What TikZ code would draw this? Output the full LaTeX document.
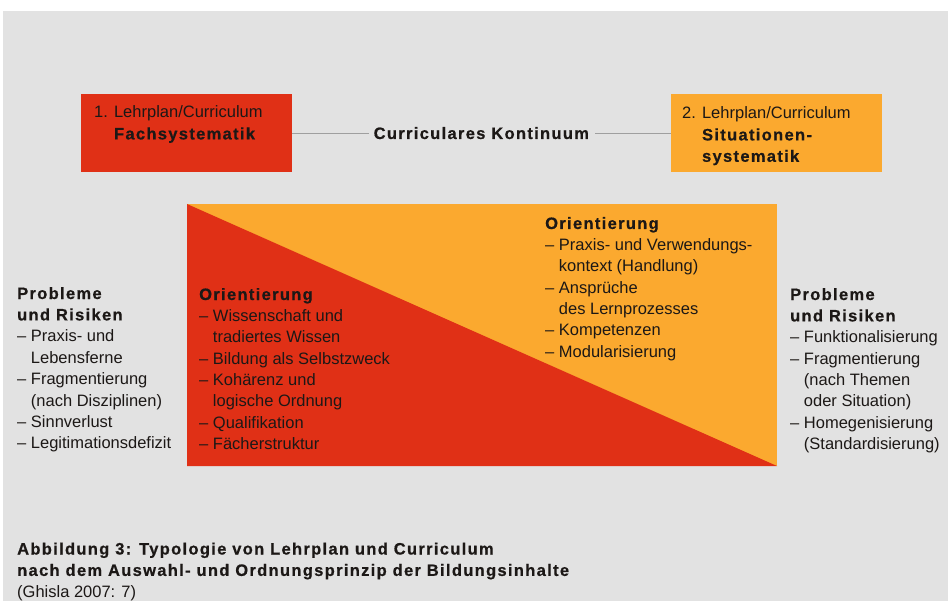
\documentclass[tikz,border=0pt]{standalone}
\usepackage{fontspec}
\setmainfont{Liberation Sans}[BoldFeatures={LetterSpace=8, FakeBold=0.6}]
\usetikzlibrary{positioning}
\definecolor{fachrot}{RGB}{224,48,22}
\definecolor{sitorange}{RGB}{251,169,47}
\definecolor{grund}{RGB}{226,226,226}
\definecolor{schrift}{RGB}{28,24,22}
\newcommand{\ein}{\hphantom{– }}
\tikzset{
  txt/.style={font=\fontsize{16.5}{21.4}\selectfont, text=schrift, align=left, anchor=base west, inner sep=0pt},
  kasten/.style={anchor=north west, minimum width=211pt, minimum height=78pt, inner sep=0pt},
  kline/.style={draw=gray!75, line width=1pt},
}

\begin{document}
\begin{tikzpicture}[x=1pt,y=-1pt]
\useasboundingbox (0,0) rectangle (948,601);
\fill[grund] (3,11) rectangle (948,601);
% die beiden Lehrplan-Typen und das Kontinuum dazwischen
% (base west = Grundlinie der letzten Zeile)
\node[kasten, fill=fachrot] (fach) at (81,94) {};
\node[kasten, fill=sitorange] (sit) at (671,94) {};
\node[txt] (fachtxt) at (94,139.4) {1. Lehrplan/Curriculum\\\hphantom{1. }\textbf{Fachsystematik}};
\node[txt] (sittxt) at (682,161.8) {2. Lehrplan/Curriculum\\\hphantom{2. }\textbf{Situationen-}\\\hphantom{2. }\textbf{systematik}};
\node[txt, anchor=base, inner xsep=5pt] (kont) at (482,139) {\textbf{Curriculares Kontinuum}};
\draw[kline] (fach.east |- kont.west) -- (kont.west);
\draw[kline] (kont.east) -- (sit.west |- kont.east);
% Diagonal geteiltes Feld
\fill[sitorange] (187,204) rectangle (777,466);
\fill[fachrot] (187,204) -- (777,466) -- (187,466) -- cycle;
\node[txt] (orifach) at (199,449.8) {\textbf{Orientierung}\\– Wissenschaft und\\\ein tradiertes Wissen\\– Bildung als Selbstzweck\\– Kohärenz und\\\ein logische Ordnung\\– Qualifikation\\– Fächerstruktur};
\node[txt] (orisit) at (545,357.4) {\textbf{Orientierung}\\– Praxis- und Verwendungs-\\\ein kontext (Handlung)\\– Ansprüche\\\ein des Lernprozesses\\– Kompetenzen\\– Modularisierung};
% Probleme links und rechts
\node[txt] (problinks) at (17,448.8) {\textbf{Probleme}\\\textbf{und Risiken}\\– Praxis- und\\\ein Lebensferne\\– Fragmentierung\\\ein (nach Disziplinen)\\– Sinnverlust\\– Legitimationsdefizit};
\node[txt] (probrechts) at (790,449.8) {\textbf{Probleme}\\\textbf{und Risiken}\\– Funktionalisierung\\– Fragmentierung\\\ein (nach Themen\\\ein oder Situation)\\– Homegenisierung\\\ein (Standardisierung)};
\node[txt] (caption) at (17,597.3) {\textbf{Abbildung 3: Typologie von Lehrplan und Curriculum}\\\textbf{nach dem Auswahl- und Ordnungsprinzip der Bildungsinhalte}\\(Ghisla 2007: 7)};
\end{tikzpicture}
\end{document}
